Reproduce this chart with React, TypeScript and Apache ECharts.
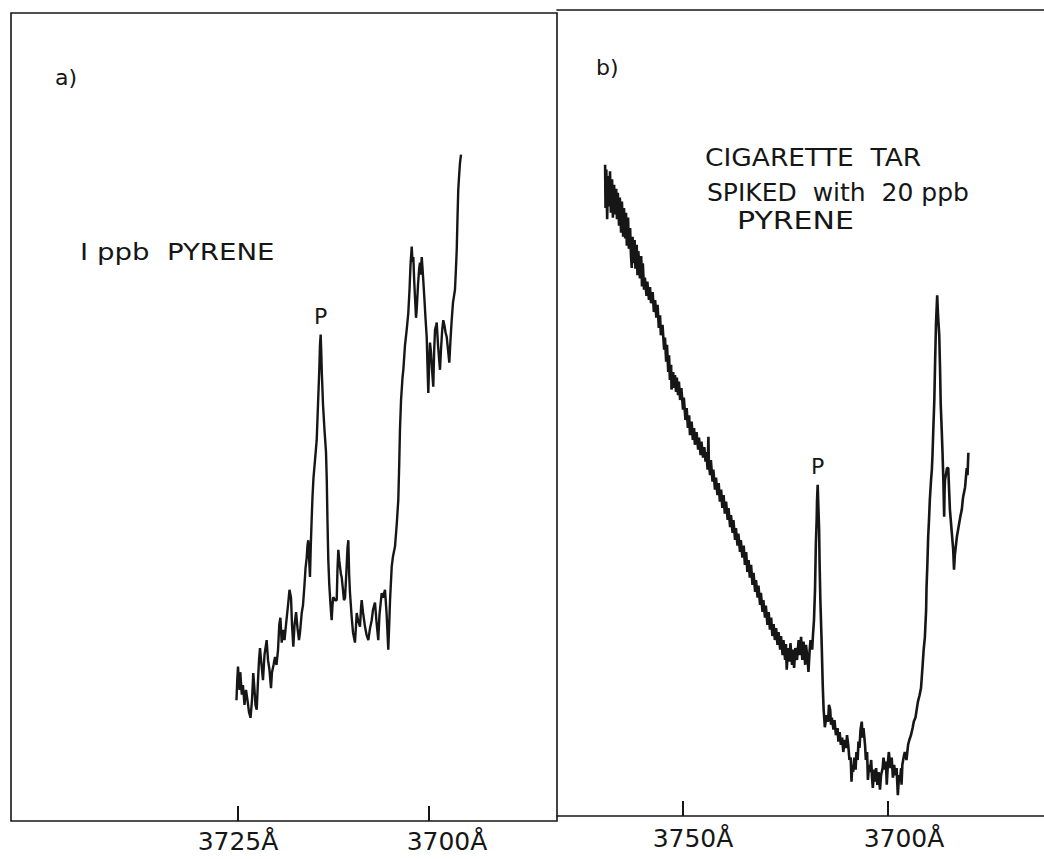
import { useEffect, useRef } from "react";
import * as echarts from "echarts";

// Panel a: 1 ppb pyrene, emission trace (wavelength in Å, intensity in arbitrary units)
const wavelengthA = [
  3725.2, 3725.1, 3725.0, 3724.8, 3724.7, 3724.5, 3724.35, 3724.15, 3723.95, 3723.76,
  3723.56, 3723.36, 3723.17, 3723.0, 3722.84, 3722.71, 3722.55, 3722.38, 3722.25, 3722.12,
  3721.92, 3721.73, 3721.53, 3721.34, 3721.25, 3721.07, 3720.88, 3720.68, 3720.55, 3720.35,
  3720.15, 3719.96, 3719.76, 3719.6, 3719.45, 3719.28, 3719.11, 3718.91, 3718.72, 3718.45,
  3718.26, 3718.06, 3717.93, 3717.76, 3717.6, 3717.4, 3717.21, 3717.02, 3716.89, 3716.66,
  3716.49, 3716.3, 3716.16, 3716.01, 3715.9, 3715.8, 3715.68, 3715.58, 3715.47, 3715.35,
  3715.25, 3715.12, 3714.92, 3714.7, 3714.53, 3714.36, 3714.27, 3714.18, 3714.1, 3714.03,
  3713.87, 3713.68, 3713.48, 3713.38, 3713.29, 3713.18, 3713.05, 3712.89, 3712.74, 3712.63,
  3712.53, 3712.3, 3712.08, 3711.98, 3711.87, 3711.75, 3711.65, 3711.52, 3711.43, 3711.26,
  3711.13, 3710.99, 3710.8, 3710.67, 3710.56, 3710.45, 3710.34, 3710.12, 3709.95, 3709.69,
  3709.55, 3709.46, 3709.29, 3709.03, 3708.9, 3708.81, 3708.64, 3708.38, 3708.18, 3707.94,
  3707.72, 3707.5, 3707.33, 3707.07, 3706.87, 3706.64, 3706.48, 3706.19, 3706.02, 3705.76,
  3705.56, 3705.33, 3705.21, 3705.1, 3704.88, 3704.71, 3704.45, 3704.23, 3704.02, 3703.9,
  3703.8, 3703.66, 3703.47, 3703.36, 3703.14, 3702.92, 3702.71, 3702.55, 3702.42, 3702.26,
  3702.16, 3702.05, 3701.94, 3701.83, 3701.7, 3701.61, 3701.44, 3701.28, 3701.18, 3701.07,
  3700.95, 3700.85, 3700.75, 3700.59, 3700.46, 3700.3, 3700.2, 3700.09, 3699.97, 3699.87,
  3699.74, 3699.6, 3699.44, 3699.32, 3699.21, 3699.08, 3698.99, 3698.82, 3698.69, 3698.56,
  3698.43, 3698.27, 3698.13, 3697.97, 3697.84, 3697.68, 3697.51, 3697.34, 3697.19, 3697.03,
  3696.86, 3696.6, 3696.47, 3696.37, 3696.27, 3696.17, 3696.05, 3695.94, 3695.81,
];
const intensityA = [
  15.1, 17.6, 19.3, 16.4, 18.6, 15.8, 17.0, 14.5, 16.4, 15.1,
  13.6, 12.9, 15.1, 18.5, 16.4, 14.5, 13.9, 17.6, 20.1, 21.6,
  19.5, 17.6, 20.8, 22.0, 22.6, 20.1, 18.9, 16.6, 18.6, 19.5,
  20.5, 19.5, 21.4, 24.5, 25.4, 22.3, 23.9, 22.6, 24.5, 27.0,
  28.9, 27.9, 24.5, 21.8, 24.5, 26.1, 24.1, 22.6, 23.5, 26.0,
  27.0, 29.5, 31.6, 32.9, 34.5, 35.1, 32.6, 30.5, 34.5, 37.9,
  40.5, 42.9, 45.1, 47.6, 52.0, 56.4, 59.5, 60.8, 58.6, 56.1,
  52.0, 48.9, 46.1, 42.6, 37.6, 32.6, 29.5, 27.0, 25.1, 27.0,
  28.0, 27.6, 27.6, 31.4, 33.9, 32.6, 31.8, 30.8, 30.5, 28.9,
  27.6, 27.9, 31.4, 34.1, 35.1, 30.8, 28.5, 25.5, 23.6, 22.3,
  24.5, 26.0, 25.1, 24.3, 26.6, 27.6, 26.1, 24.3, 23.3, 22.6,
  24.1, 25.1, 26.4, 27.3, 24.9, 22.6, 25.8, 28.5, 27.9, 28.9,
  26.1, 21.4, 24.5, 27.6, 31.8, 33.1, 34.3, 37.0, 40.1, 44.5,
  48.9, 52.6, 55.4, 56.4, 59.5, 61.4, 63.5, 66.4, 69.5, 71.8,
  69.9, 70.5, 67.6, 65.4, 62.9, 63.9, 67.0, 69.1, 69.8, 68.3,
  70.5, 69.1, 67.6, 65.1, 62.9, 60.5, 57.0, 53.5, 57.6, 59.8,
  58.6, 56.4, 54.3, 58.9, 61.4, 61.9, 62.3, 59.5, 57.9, 56.4,
  58.9, 61.4, 62.6, 61.9, 61.1, 60.5, 58.9, 57.3, 60.1, 62.6,
  64.8, 66.4, 69.1, 71.4, 75.4, 78.9, 80.8, 82.3, 83.3,
];

// Panel b: cigarette tar spiked with 20 ppb pyrene
const wavelengthB = [
  3769.0, 3768.9, 3768.7, 3768.5, 3768.3, 3768.05, 3767.8, 3767.6, 3767.3, 3767.1,
  3766.8, 3766.6, 3766.3, 3766.1, 3765.9, 3765.6, 3765.4, 3765.1, 3764.9, 3764.6,
  3764.4, 3764.1, 3763.9, 3763.7, 3763.4, 3763.2, 3762.9, 3762.7, 3762.5, 3762.3,
  3762.1, 3761.8, 3761.6, 3761.3, 3761.1, 3760.9, 3760.5, 3760.2, 3760.0, 3759.8,
  3759.5, 3759.3, 3758.9, 3758.7, 3758.3, 3758.05, 3757.8, 3757.4, 3757.1, 3756.8,
  3756.5, 3756.2, 3755.9, 3755.6, 3755.4, 3755.0, 3754.6, 3754.4, 3754.1, 3753.9,
  3753.6, 3753.4, 3753.2, 3752.9, 3752.8, 3752.4, 3752.2, 3751.95, 3751.7, 3751.5,
  3751.2, 3751.0, 3750.7, 3750.4, 3750.0, 3749.8, 3749.4, 3749.1, 3748.8, 3748.5,
  3748.3, 3747.9, 3747.6, 3747.3, 3747.1, 3746.7, 3746.3, 3746.1, 3745.7, 3745.5,
  3745.1, 3744.8, 3744.5, 3744.3, 3744.0, 3743.8, 3743.7, 3743.4, 3743.2, 3742.8,
  3742.6, 3742.2, 3741.95, 3741.6, 3741.3, 3741.0, 3740.7, 3740.4, 3740.1, 3739.8,
  3739.5, 3739.1, 3738.9, 3738.5, 3738.3, 3737.9, 3737.7, 3737.3, 3737.1, 3736.7,
  3736.5, 3736.1, 3735.9, 3735.5, 3735.2, 3734.9, 3734.6, 3734.3, 3734.0, 3733.7,
  3733.4, 3733.05, 3732.8, 3732.4, 3732.2, 3731.8, 3731.6, 3731.2, 3731.0, 3730.6,
  3730.4, 3730.0, 3729.8, 3729.4, 3729.1, 3728.8, 3728.5, 3728.2, 3727.9, 3727.6,
  3727.3, 3726.95, 3726.7, 3726.3, 3726.1, 3725.7, 3725.5, 3725.1, 3724.9, 3724.7,
  3724.4, 3724.0, 3723.8, 3723.4, 3723.2, 3722.9, 3722.6, 3722.2, 3721.8, 3721.5,
  3721.2, 3720.9, 3720.6, 3720.2, 3720.0, 3719.6, 3719.4, 3719.1, 3718.9, 3718.5,
  3718.3, 3718.05, 3717.8, 3717.6, 3717.4, 3717.3, 3717.15, 3717.0, 3716.8, 3716.7,
  3716.5, 3716.2, 3715.9, 3715.7, 3715.4, 3715.0, 3714.6, 3714.4, 3714.1, 3713.9,
  3713.7, 3713.3, 3713.05, 3712.7, 3712.3, 3712.1, 3711.8, 3711.5, 3711.2, 3710.9,
  3710.6, 3710.2, 3710.0, 3709.7, 3709.4, 3709.1, 3708.9, 3708.7, 3708.5, 3708.2,
  3707.9, 3707.7, 3707.4, 3707.2, 3706.95, 3706.7, 3706.4, 3706.2, 3705.98, 3705.6,
  3705.4, 3705.1, 3704.9, 3704.6, 3704.4, 3704.1, 3703.9, 3703.7, 3703.4, 3703.2,
  3702.9, 3702.6, 3702.3, 3701.95, 3701.7, 3701.3, 3701.1, 3700.7, 3700.5, 3700.3,
  3700.0, 3699.8, 3699.4, 3699.1, 3698.8, 3698.5, 3698.2, 3697.9, 3697.6, 3697.3,
  3697.1, 3696.8, 3696.7, 3696.5, 3696.2, 3695.9, 3695.5, 3695.1, 3694.8, 3694.4,
  3694.0, 3693.7, 3693.3, 3693.0, 3692.7, 3692.3, 3691.95, 3691.6, 3691.3, 3691.0,
  3690.7, 3690.6, 3690.4, 3690.2, 3690.0, 3689.8, 3689.5, 3689.3, 3689.15, 3688.95,
  3688.7, 3688.5, 3688.3, 3688.1, 3688.0, 3687.8, 3687.5, 3687.3, 3687.15, 3686.9,
  3686.7, 3686.5, 3686.3, 3686.2, 3686.1, 3685.9, 3685.6, 3685.3, 3685.1, 3684.9,
  3684.5, 3684.1, 3683.9, 3683.7, 3683.2, 3682.9, 3682.4, 3682.0, 3681.7, 3681.2,
  3681.0, 3680.8, 3680.6, 3680.4,
];
const intensityB = [
  81.4, 76.0, 80.8, 74.6, 80.0, 76.2, 80.6, 75.4, 79.6, 74.8,
  78.9, 75.2, 78.4, 74.6, 77.9, 73.8, 77.3, 72.9, 76.8, 72.4,
  76.0, 72.2, 75.4, 71.3, 74.8, 70.9, 73.5, 70.2, 68.5, 72.4,
  69.1, 72.0, 68.4, 71.4, 67.6, 70.6, 67.2, 70.0, 66.2, 69.1,
  65.8, 67.3, 65.0, 66.8, 64.5, 66.1, 64.1, 65.5, 63.0, 64.5,
  62.3, 63.9, 61.0, 62.6, 60.1, 61.4, 58.3, 59.8, 56.8, 58.9,
  55.5, 57.6, 54.5, 56.4, 53.3, 55.5, 53.5, 55.1, 53.0, 54.8,
  52.6, 54.3, 52.0, 53.5, 50.8, 52.3, 49.5, 51.0, 48.5, 50.1,
  47.6, 49.3, 47.0, 48.5, 46.4, 48.0, 45.8, 47.3, 45.1, 46.8,
  44.8, 46.1, 44.3, 45.5, 43.3, 47.4, 44.3, 42.6, 44.5, 41.8,
  43.3, 40.8, 42.3, 40.1, 41.6, 39.3, 40.8, 38.5, 40.1, 37.8,
  39.3, 37.0, 38.5, 36.1, 37.6, 35.4, 37.0, 34.5, 36.0, 33.8,
  35.3, 33.0, 34.5, 32.3, 33.8, 31.4, 33.0, 30.5, 32.0, 29.8,
  31.4, 28.9, 30.4, 28.0, 29.5, 27.3, 28.8, 26.4, 27.9, 25.5,
  27.0, 24.8, 26.3, 23.9, 25.5, 23.3, 24.8, 22.5, 24.0, 22.0,
  23.5, 21.4, 23.0, 20.8, 22.5, 20.1, 22.0, 19.5, 21.5, 18.3,
  21.0, 19.3, 21.6, 18.9, 20.8, 18.5, 21.0, 19.5, 22.0, 20.1,
  22.4, 19.5, 21.8, 18.9, 21.4, 19.5, 18.0, 20.8, 22.0, 20.8,
  22.6, 24.5, 28.3, 33.9, 37.0, 39.5, 41.4, 38.9, 35.8, 32.0,
  27.0, 22.0, 16.1, 13.3, 11.1, 12.6, 11.8, 13.9, 13.3, 11.4,
  12.3, 10.8, 12.0, 10.1, 11.0, 9.3, 10.5, 8.9, 9.8, 8.0,
  9.5, 8.5, 10.1, 8.9, 7.0, 7.3, 4.3, 6.4, 5.5, 7.3,
  5.8, 8.0, 7.0, 9.3, 8.5, 10.8, 11.8, 9.8, 11.0, 8.9,
  7.0, 8.0, 4.5, 6.4, 5.5, 7.0, 4.8, 3.5, 5.8, 4.3,
  6.0, 3.9, 5.5, 3.3, 5.1, 6.0, 7.3, 5.8, 6.8, 3.9,
  6.8, 8.0, 6.0, 7.3, 4.8, 6.4, 5.1, 6.0, 2.6, 5.1,
  4.3, 6.0, 3.9, 6.4, 7.3, 8.0, 7.0, 8.9, 9.5, 10.1,
  11.0, 11.8, 12.3, 13.3, 14.3, 15.1, 16.0, 18.5, 20.8, 22.4,
  25.8, 28.6, 31.4, 34.9, 37.0, 39.5, 42.0, 43.3, 45.1, 48.3,
  52.0, 57.0, 61.4, 63.9, 65.1, 62.6, 60.1, 55.8, 51.6, 48.3,
  45.4, 42.0, 37.4, 40.8, 42.0, 42.6, 43.5, 43.5, 40.8, 38.3,
  35.8, 33.3, 30.8, 32.6, 34.9, 35.8, 37.3, 38.3, 39.8, 41.1,
  42.3, 43.5, 42.6, 45.4,
];

// Wavelength ticks on each panel
const ticksA = [3725, 3700];
const ticksB = [3750, 3700];

// Index of the pyrene band "P" in each trace
const peakIndexA = 67;
const peakIndexB = 186;

const FONT = "'DejaVu Sans', 'Liberation Sans', sans-serif";
const INK = "#161616";

function zip(xs: number[], ys: number[]) {
  return xs.map((x, i) => [x, ys[i]]);
}

// Tick labels: "3725Å" etc., each nudged sideways the way it was lettered
function tickLabel(nudges: Record<number, number>, margin: number) {
  const rich: Record<string, any> = {};
  Object.keys(nudges).forEach((k) => {
    const n = nudges[Number(k)];
    rich["t" + k] = {
      fontSize: 25,
      fontFamily: FONT,
      color: INK,
      padding: n >= 0 ? [0, 0, 0, 2 * n] : [0, -2 * n, 0, 0],
    };
  });
  return {
    show: true,
    margin,
    formatter: (v: number) => `{t${v}|${v}Å}`,
    rich,
  };
}

function textEl(text: string, x: number, y: number, size: number, scaleX = 1) {
  return {
    type: "text",
    x,
    y,
    scaleX,
    style: { text, fontSize: size, fontFamily: FONT, fill: INK, align: "left", verticalAlign: "middle" },
  };
}

export default function App() {
  const ref = useRef<HTMLDivElement>(null);

  useEffect(() => {
    if (!ref.current) return;
    const chart = echarts.init(ref.current, null, { renderer: "svg" });

    const peakLabel = {
      show: true,
      position: "top" as const,
      distance: 6,
      formatter: "P",
      fontSize: 22,
      fontFamily: FONT,
      color: INK,
    };

    const frame = { show: true, lineStyle: { color: INK, width: 1.6 } };

    chart.setOption({
      animation: false,
      backgroundColor: "#ffffff",
      grid: [
        { left: 11, top: 13, width: 546, height: 808, show: true, borderColor: INK, borderWidth: 1.6, backgroundColor: "transparent" },
        { left: 557, top: 10, width: 487, height: 806, show: false },
      ],
      xAxis: [
        {
          type: "value",
          gridIndex: 0,
          inverse: true,
          min: 3683.246,
          max: 3754.712,
          axisLine: { show: false },
          splitLine: { show: false },
          axisTick: { show: true, inside: true, length: 15, customValues: ticksA, lineStyle: { color: INK, width: 2 } },
          axisLabel: { customValues: ticksA, ...tickLabel({ 3725: 0, 3700: 18 }, 8) },
        },
        {
          type: "value",
          gridIndex: 1,
          inverse: true,
          min: 3661.951,
          max: 3780.732,
          axisLine: frame,
          splitLine: { show: false },
          axisTick: { show: true, inside: true, length: 15, customValues: ticksB, lineStyle: { color: INK, width: 2 } },
          axisLabel: { customValues: ticksB, ...tickLabel({ 3750: 10, 3700: 16 }, 10) },
        },
        {
          type: "value",
          gridIndex: 1,
          position: "top",
          inverse: true,
          min: 3661.951,
          max: 3780.732,
          axisLine: frame,
          axisTick: { show: false },
          axisLabel: { show: false },
          splitLine: { show: false },
        },
      ],
      yAxis: [
        { type: "value", gridIndex: 0, min: 0, max: 101, show: false },
        { type: "value", gridIndex: 1, min: 0, max: 100.75, show: false },
      ],
      series: [
        {
          name: "1 ppb pyrene",
          type: "line",
          xAxisIndex: 0,
          yAxisIndex: 0,
          data: zip(wavelengthA, intensityA),
          showSymbol: false,
          lineStyle: { color: INK, width: 2.4 },
          markPoint: {
            symbol: "circle",
            symbolSize: 2,
            itemStyle: { color: "rgba(0,0,0,0)" },
            label: peakLabel,
            data: [{ coord: [wavelengthA[peakIndexA], intensityA[peakIndexA]] }],
          },
        },
        {
          name: "cigarette tar + 20 ppb pyrene",
          type: "line",
          xAxisIndex: 1,
          yAxisIndex: 1,
          data: zip(wavelengthB, intensityB),
          showSymbol: false,
          lineStyle: { color: INK, width: 2.6 },
          markPoint: {
            symbol: "circle",
            symbolSize: 2,
            itemStyle: { color: "rgba(0,0,0,0)" },
            label: peakLabel,
            data: [{ coord: [wavelengthB[peakIndexB], intensityB[peakIndexB]] }],
          },
        },
      ],
      graphic: [
        textEl("a)", 55, 77, 22),
        textEl("b)", 596, 67, 22),
        textEl("I ppb  PYRENE", 80, 252, 23, 1.2),
        textEl("CIGARETTE  TAR", 705, 157, 25, 1.06),
        textEl("SPIKED  with  20 ppb", 707, 192, 25),
        textEl("PYRENE", 737, 220, 25, 1.2),
      ],
    });

    return () => chart.dispose();
  }, []);

  return <div ref={ref} style={{ position: "absolute", left: 0, top: 0, width: 1044, height: 859 }} />;
}
